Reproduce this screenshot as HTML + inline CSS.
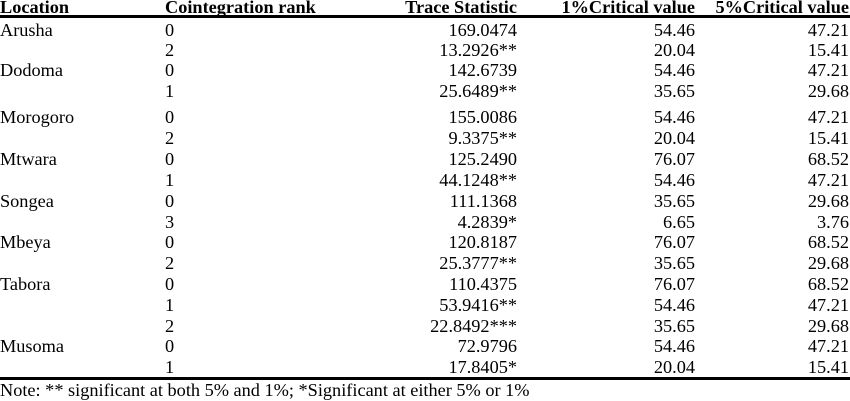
<!DOCTYPE html>
<html><head><meta charset="utf-8"><style>
body{margin:0;width:850px;height:401px;background:#fff;position:relative;overflow:hidden;font-family:"Liberation Serif",serif;font-size:18.3px;color:#000}
.r{position:absolute;left:0;width:850px;height:20px;line-height:20px}
.r span{position:absolute;white-space:nowrap}
.a{left:0}.b{left:165px}.c{right:333px}.d{right:155px}.e{right:1px}
.h{font-weight:bold}
.ln{position:absolute;left:0;width:850px;background:#000}
</style></head><body>
<div class="r h" style="top:-3px"><span class="a">Location</span><span class="b">Cointegration rank</span><span class="c">Trace Statistic</span><span class="d">1%Critical value</span><span class="e">5%Critical value</span></div>
<div class="ln" style="top:15px;height:3px"></div>
<div class="r" style="top:20px"><span class="a">Arusha</span><span class="b">0</span><span class="c">169.0474</span><span class="d">54.46</span><span class="e">47.21</span></div>
<div class="r" style="top:40px"><span class="b">2</span><span class="c">13.2926**</span><span class="d">20.04</span><span class="e">15.41</span></div>
<div class="r" style="top:60px"><span class="a">Dodoma</span><span class="b">0</span><span class="c">142.6739</span><span class="d">54.46</span><span class="e">47.21</span></div>
<div class="r" style="top:81px"><span class="b">1</span><span class="c">25.6489**</span><span class="d">35.65</span><span class="e">29.68</span></div>
<div class="r" style="top:107px"><span class="a">Morogoro</span><span class="b">0</span><span class="c">155.0086</span><span class="d">54.46</span><span class="e">47.21</span></div>
<div class="r" style="top:128px"><span class="b">2</span><span class="c">9.3375**</span><span class="d">20.04</span><span class="e">15.41</span></div>
<div class="r" style="top:149px"><span class="a">Mtwara</span><span class="b">0</span><span class="c">125.2490</span><span class="d">76.07</span><span class="e">68.52</span></div>
<div class="r" style="top:170px"><span class="b">1</span><span class="c">44.1248**</span><span class="d">54.46</span><span class="e">47.21</span></div>
<div class="r" style="top:191px"><span class="a">Songea</span><span class="b">0</span><span class="c">111.1368</span><span class="d">35.65</span><span class="e">29.68</span></div>
<div class="r" style="top:212px"><span class="b">3</span><span class="c">4.2839*</span><span class="d">6.65</span><span class="e">3.76</span></div>
<div class="r" style="top:232px"><span class="a">Mbeya</span><span class="b">0</span><span class="c">120.8187</span><span class="d">76.07</span><span class="e">68.52</span></div>
<div class="r" style="top:253px"><span class="b">2</span><span class="c">25.3777**</span><span class="d">35.65</span><span class="e">29.68</span></div>
<div class="r" style="top:274px"><span class="a">Tabora</span><span class="b">0</span><span class="c">110.4375</span><span class="d">76.07</span><span class="e">68.52</span></div>
<div class="r" style="top:295px"><span class="b">1</span><span class="c">53.9416**</span><span class="d">54.46</span><span class="e">47.21</span></div>
<div class="r" style="top:316px"><span class="b">2</span><span class="c">22.8492***</span><span class="d">35.65</span><span class="e">29.68</span></div>
<div class="r" style="top:336px"><span class="a">Musoma</span><span class="b">0</span><span class="c">72.9796</span><span class="d">54.46</span><span class="e">47.21</span></div>
<div class="r" style="top:357px"><span class="b">1</span><span class="c">17.8405*</span><span class="d">20.04</span><span class="e">15.41</span></div>
<div class="ln" style="top:377px;height:3px"></div>
<div class="r" style="top:380px"><span class="a">Note: ** significant at both 5% and 1%; *Significant at either 5% or 1%</span></div>
</body></html>
